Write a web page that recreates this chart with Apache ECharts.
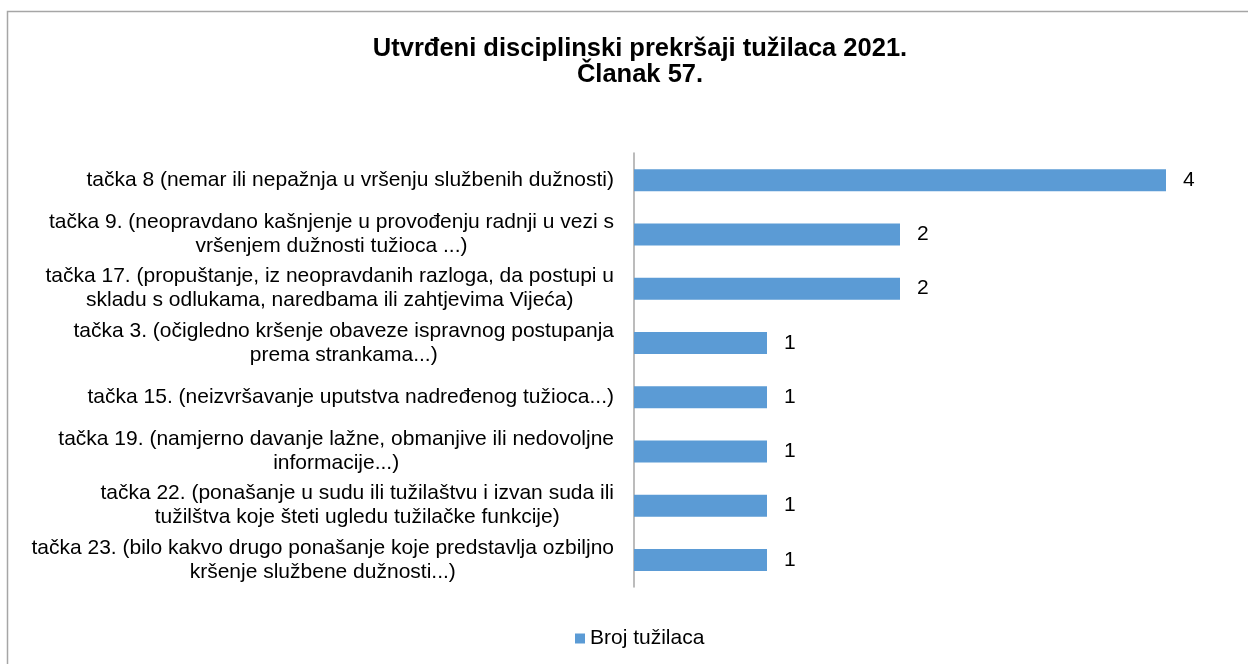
<!DOCTYPE html>
<html>
<head>
<meta charset="utf-8">
<script src="https://cdn.jsdelivr.net/npm/echarts@6/dist/echarts.min.js"></script>
<style>
	html, body { margin: 0; padding: 0; background: #fff; }
	#chart-box { width: 1248px; height: 664px; }
</style>
</head>
<body>
<div id="chart-box"></div>
<script>
var categories = [
	"tačka 8 (nemar ili nepažnja u vršenju službenih dužnosti)",
	"tačka 9. (neopravdano kašnjenje u provođenju radnji u vezi s\nvršenjem dužnosti tužioca ...)",
	"tačka 17. (propuštanje, iz neopravdanih razloga, da postupi u\nskladu s odlukama, naredbama ili zahtjevima Vijeća)",
	"tačka 3. (očigledno kršenje obaveze ispravnog postupanja\nprema strankama...)",
	"tačka 15. (neizvršavanje uputstva nadređenog tužioca...)",
	"tačka 19. (namjerno davanje lažne, obmanjive ili nedovoljne\ninformacije...)",
	"tačka 22. (ponašanje u sudu ili tužilaštvu i izvan suda ili\ntužilštva koje šteti ugledu tužilačke funkcije)",
	"tačka 23. (bilo kakvo drugo ponašanje koje predstavlja ozbiljno\nkršenje službene dužnosti...)"
];
var counts = [4, 2, 2, 1, 1, 1, 1, 1];
var seriesName = "Broj tužilaca";

var chart = echarts.init(document.getElementById("chart-box"));
var font = "Liberation Sans, Arial, sans-serif";

var option = {
	animation: false,
	textStyle: { fontFamily: font },
	title: {
		text: "Utvrđeni disciplinski prekršaji tužilaca 2021.\nČlanak 57.",
		left: 635,
		textAlign: "center",
		top: 31,
		textStyle: {
			fontFamily: font,
			fontSize: 25.5,
			fontWeight: "bold",
			color: "#000",
			lineHeight: 26
		}
	},
	graphic: [
		{
			type: "rect",
			shape: { x: 7.5, y: 11.5, width: 1260, height: 700 },
			style: { fill: "none", stroke: "#a6a6a6", lineWidth: 1.5 },
			silent: true
		}
	],
	legend: {
		data: [seriesName],
		bottom: 10,
		left: 570,
		itemWidth: 10,
		itemHeight: 10,
		itemGap: 4,
		icon: "rect",
		textStyle: { fontFamily: font, fontSize: 21, color: "#000" }
	},
	grid: {
		left: 634,
		right: 82,
		top: 153,
		height: 434,
		containLabel: false
	},
	xAxis: {
		type: "value",
		min: 0,
		max: 4,
		show: false
	},
	yAxis: {
		type: "category",
		inverse: true,
		data: categories,
		axisLine: { show: true, lineStyle: { color: "#a6a6a6", width: 1.5 } },
		axisTick: { show: false },
		axisLabel: {
			margin: 20,
			color: "#000",
			fontFamily: font,
			fontSize: 21,
			lineHeight: 24,
			formatter: function (value) {
				return value.split("\n").map(function (s) {
					return "{c|" + s + "}";
				}).join("\n");
			},
			rich: {
				c: { align: "center", fontSize: 21, lineHeight: 24, color: "#000", fontFamily: font }
			}
		}
	},
	series: [
		{
			name: seriesName,
			type: "bar",
			data: counts,
			barWidth: 22,
			itemStyle: { color: "#5b9bd5" },
			label: {
				show: true,
				position: "right",
				distance: 17,
				color: "#000",
				fontFamily: font,
				fontSize: 21
			}
		}
	]
};

chart.setOption(option);
</script>
</body>
</html>
